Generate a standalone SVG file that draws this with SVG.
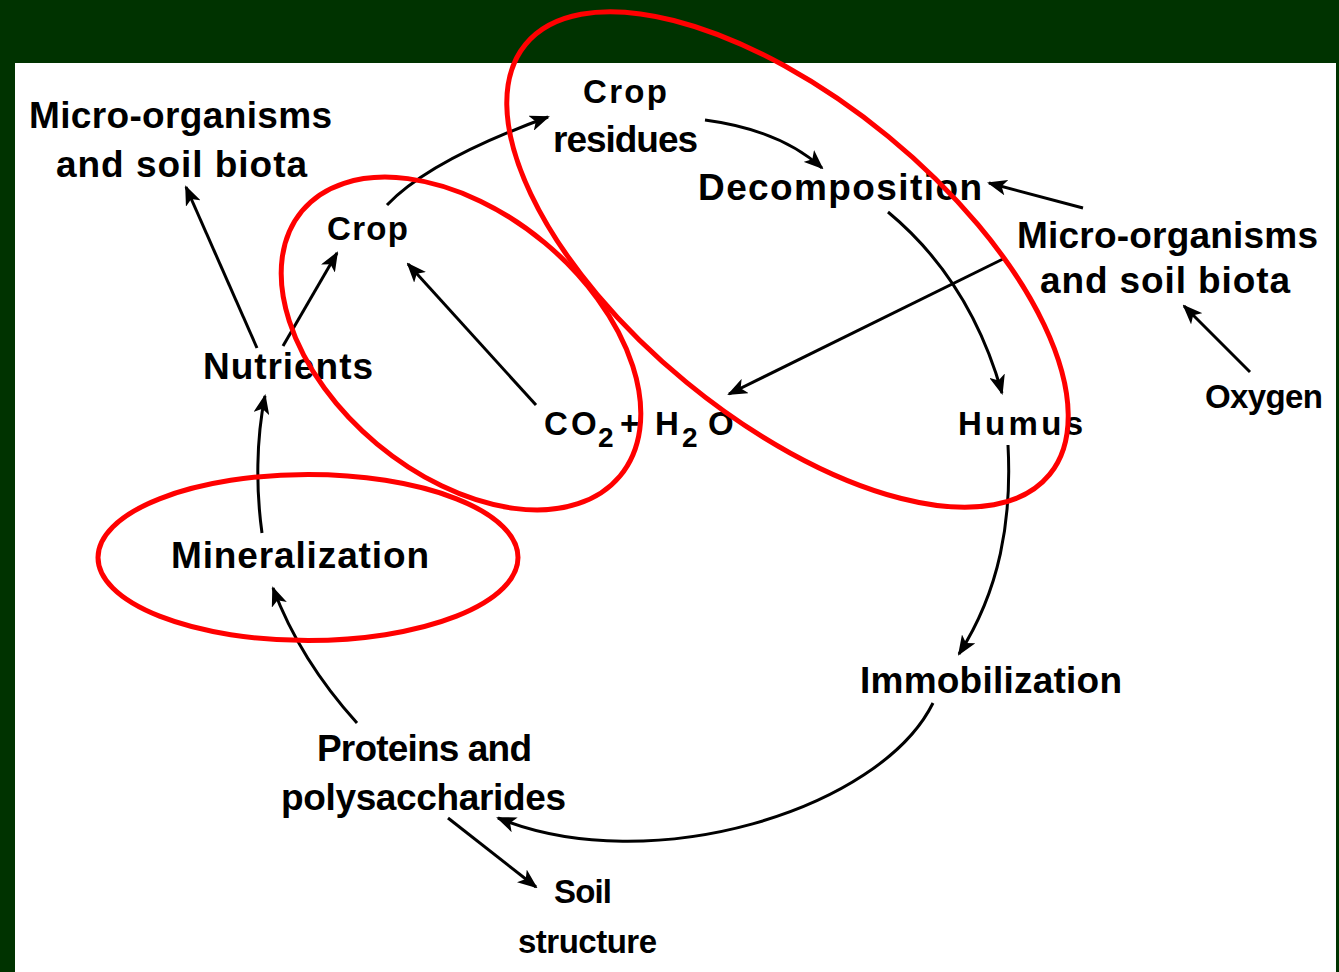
<svg xmlns="http://www.w3.org/2000/svg" width="1339" height="972" viewBox="0 0 1339 972">
  <defs>
    <style>
      .t { font-family: "Liberation Sans", Arial, sans-serif; font-weight: bold; font-size: 37px; fill: #000; }
      .n { font-family: "Liberation Sans", Arial, sans-serif; font-weight: bold; font-size: 33px; fill: #000; }
      .sub { font-family: "Liberation Sans", Arial, sans-serif; font-weight: bold; font-size: 28px; fill: #000; }
      .c { fill: none; stroke: #000; stroke-width: 3; marker-end: url(#ah); }
      .ring { fill: none; stroke: #ff0000; stroke-width: 5; }
    </style>
    <marker id="ah" viewBox="0 0 20 16" refX="18" refY="8" markerWidth="20" markerHeight="16" markerUnits="userSpaceOnUse" orient="auto">
      <path d="M0,0 L20,8 L0,16 L5,8 z" fill="#000"/>
    </marker>
  </defs>

  <rect x="0" y="0" width="1339" height="972" fill="#003300"/>
  <rect x="15" y="63" width="1321" height="909" fill="#ffffff"/>

  <g id="connectors">
    <line class="c" x1="257" y1="348" x2="186" y2="187"/>
    <line class="c" x1="283" y1="346" x2="337" y2="253"/>
    <line class="c" x1="536" y1="405" x2="408" y2="264"/>
    <path class="c" d="M387,205 Q430,160 548,117"/>
    <path class="c" d="M705,120 Q780,130 822,168"/>
    <line class="c" x1="1083" y1="208" x2="989" y2="183"/>
    <line class="c" x1="1005" y1="258" x2="729" y2="394"/>
    <path class="c" d="M888,212 Q970,280 1002,393"/>
    <line class="c" x1="1250" y1="372" x2="1184" y2="306"/>
    <path class="c" d="M1008,445 C1012,520 1000,590 959,654"/>
    <path class="c" d="M933,703 C880,810 650,880 498,818"/>
    <path class="c" d="M357,723 Q300,660 273,588"/>
    <path class="c" d="M262,533 C256,490 256,440 265,396"/>
    <line class="c" x1="448" y1="818" x2="536" y2="887"/>
  </g>

  <g id="node-micro-left">
    <text class="t" x="29" y="128" textLength="303" lengthAdjust="spacing">Micro-organisms</text>
    <text class="t" x="56" y="177" textLength="251" lengthAdjust="spacing">and soil biota</text>
  </g>
  <g id="node-crop-residues">
    <text class="n" x="583" y="103" textLength="84" lengthAdjust="spacing">Crop</text>
    <text class="t" x="553" y="152" textLength="145" lengthAdjust="spacing">residues</text>
  </g>
  <g id="node-decomposition">
    <text class="t" x="698" y="200" textLength="284" lengthAdjust="spacing">Decomposition</text>
  </g>
  <g id="node-micro-right">
    <text class="t" x="1017" y="248" textLength="301" lengthAdjust="spacing">Micro-organisms</text>
    <text class="t" x="1040" y="293" textLength="250" lengthAdjust="spacing">and soil biota</text>
  </g>
  <g id="node-oxygen">
    <text class="n" x="1205" y="408" textLength="118" lengthAdjust="spacing">Oxygen</text>
  </g>
  <g id="node-humus">
    <text class="n" x="958" y="435" textLength="125" lengthAdjust="spacing">Humus</text>
  </g>
  <g id="node-crop">
    <text class="n" x="327" y="240" textLength="81" lengthAdjust="spacing">Crop</text>
  </g>
  <g id="node-nutrients">
    <text class="t" x="203" y="379" textLength="170" lengthAdjust="spacing">Nutrients</text>
  </g>
  <g id="node-co2-h2o">
    <text class="n" x="544" y="435">C</text>
    <text class="n" x="571" y="435">O</text>
    <text class="sub" x="598" y="447">2</text>
    <text class="n" x="620" y="435">+</text>
    <text class="n" x="655" y="435">H</text>
    <text class="sub" x="682" y="447">2</text>
    <text class="n" x="708" y="435">O</text>
  </g>
  <g id="node-mineralization">
    <text class="t" x="171" y="568" textLength="258" lengthAdjust="spacing">Mineralization</text>
  </g>
  <g id="node-immobilization">
    <text class="t" x="860" y="693" textLength="262" lengthAdjust="spacing">Immobilization</text>
  </g>
  <g id="node-proteins">
    <text class="t" x="317" y="761" textLength="215" lengthAdjust="spacing">Proteins and</text>
    <text class="t" x="281" y="810" textLength="285" lengthAdjust="spacing">polysaccharides</text>
  </g>
  <g id="node-soil-structure">
    <text class="n" x="554" y="903" font-size="32" textLength="58" lengthAdjust="spacing">Soil</text>
    <text class="n" x="518" y="953" textLength="139" lengthAdjust="spacing">structure</text>
  </g>

  <g id="highlights">
    <ellipse class="ring" cx="787.5" cy="259.5" rx="339" ry="159" transform="rotate(39.4 787.5 259.5)"/>
    <ellipse class="ring" cx="461" cy="343.5" rx="207" ry="131" transform="rotate(39.8 461 343.5)"/>
    <ellipse class="ring" cx="308" cy="557.5" rx="210" ry="83"/>
  </g>
</svg>
